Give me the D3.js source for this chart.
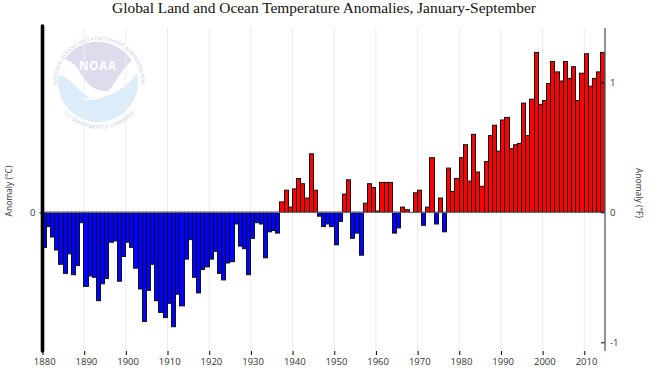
<!DOCTYPE html>
<html>
<head>
<meta charset="utf-8">
<script src="https://cdn.jsdelivr.net/npm/d3@7"></script>
<style>
  html, body { margin: 0; padding: 0; background: #fff; }
  svg { display: block; }
  text { font-family: "Open Sans", sans-serif; fill: #333; }
  .title { font-family: "Liberation Serif", serif; font-size: 15.4px; fill: #111; }
  .tick text { font-size: 9.5px; fill: #333; }
  .side { font-size: 8.5px; }
  .ring { font-size: 5px; fill: #c6cbdc; }
</style>
</head>
<body>
<svg id="chart" width="660" height="371"></svg>
<script>
const title = "Global Land and Ocean Temperature Anomalies, January-September";
const firstYear = 1880;

// anomaly in deg F, one row per decade
const anom1880s = [-.27, -.11, -.19, -.29, -.40, -.47, -.32, -.48, -.41, -.08];
const anom1890s = [-.57, -.49, -.50, -.68, -.55, -.51, -.23, -.22, -.53, -.34];
const anom1900s = [-.23, -.27, -.43, -.59, -.84, -.60, -.40, -.68, -.77, -.81];
const anom1910s = [-.70, -.88, -.63, -.72, -.36, -.21, -.50, -.62, -.44, -.42];
const anom1920s = [-.36, -.30, -.47, -.52, -.39, -.38, -.09, -.26, -.28, -.48];
const anom1930s = [-.20, -.08, -.09, -.35, -.15, -.14, -.16, .08, .17, .04];
const anom1940s = [.18, .26, .22, .11, .45, .17, -.03, -.11, -.09, -.11];
const anom1950s = [-.25, -.07, .14, .25, -.20, -.16, -.33, .07, .22, .19];
const anom1960s = [.01, .23, .23, .23, -.16, -.12, .04, .02, 0, .15];
const anom1970s = [.17, -.10, .04, .42, -.09, .11, -.15, .34, .16, .26];
const anom1980s = [.42, .52, .24, .60, .31, .20, .39, .59, .67, .47];
const anom1990s = [.71, .73, .49, .52, .53, .84, .59, .87, 1.23, .83];
const anom2000s = [.86, .99, 1.16, 1.08, 1.01, 1.16, 1.03, 1.12, .86, 1.07];
const anom2010s = [1.22, .97, 1.03, 1.08, 1.23];

const xTicks = [1880, 1890, 1900, 1910, 1920, 1930, 1940, 1950, 1960, 1970, 1980, 1990, 2000, 2010];
const rightTicks = [-1, 0, 1];

const anomalies = [].concat(anom1880s, anom1890s, anom1900s, anom1910s, anom1920s, anom1930s,
  anom1940s, anom1950s, anom1960s, anom1970s, anom1980s, anom1990s, anom2000s, anom2010s);
const data = anomalies.map((v, i) => ({year: firstYear + i, value: v}));

const x = d3.scaleLinear().domain([1880, 2010]).range([42.5, 584.3]);
const y = d3.scaleLinear().domain([-1, 1]).range([342.3, 82.3]);
const plotTop = 28, plotBottom = 351, leftEdge = 42.5, rightEdge = 605;

const svg = d3.select("#chart");

// snap bar edges to whole pixels so each divider stays a visible 1px line
function bar_left(year) {
  return Math.round(x(year) - 0.7) + 0.5;
}

function draw_logo() {
  let g = svg.append("g");
  let defs = svg.append("defs");
  defs.append("path").attr("id", "ringTop").attr("d", "M 59.5,96.4 A 42 42 0 1 1 138.5,96.4");
  defs.append("path").attr("id", "ringBottom").attr("d", "M 57,103 A 47 47 0 0 0 141,103");

  // lower half of the disc
  g.append("path")
    .attr("d", "M 58.5,76 C 70,75 78,92 89,97 C 103,100 124,92 137,73 A 40 40 0 1 1 58.5,76 Z")
    .attr("fill", "#dcecf9");
  // bird wing
  g.append("path")
    .attr("d", "M 65,59 A 40 40 0 0 1 132,61 C 121,68 116,84 108,91 C 95,92 86,84 80,72 C 76,65 72,62 65,59 Z")
    .attr("fill", "#dcdcec");
  g.append("path")
    .attr("d", "M 84,99 C 95,100 105,97 114,91")
    .attr("fill", "none").attr("stroke", "#fff").attr("stroke-width", 1.6);
  g.append("text").attr("x", 98).attr("y", 70).attr("text-anchor", "middle")
    .style("font-size", "11.5px").style("font-weight", 700).style("fill", "#fff")
    .style("letter-spacing", "0.8px").text("NOAA");
  g.append("text").attr("class", "ring").append("textPath")
    .attr("href", "#ringTop").attr("startOffset", "50%").attr("text-anchor", "middle")
    .text("NATIONAL OCEANIC AND ATMOSPHERIC ADMINISTRATION");
  g.append("text").attr("class", "ring").append("textPath")
    .attr("href", "#ringBottom").attr("startOffset", "50%").attr("text-anchor", "middle")
    .text("U.S. DEPARTMENT OF COMMERCE");
}

function draw_grid() {
  svg.append("g").selectAll("line")
    .data(xTicks.slice(1)).enter()
    .append("line")
    .attr("x1", d => x(d)).attr("x2", d => x(d))
    .attr("y1", plotTop).attr("y2", plotBottom)
    .attr("stroke", "#ececec").attr("stroke-width", 1);
}

function draw_bars() {
  svg.append("g").selectAll("rect")
    .data(data).enter()
    .append("rect")
    .attr("x", d => bar_left(d.year))
    .attr("width", d => bar_left(d.year + 1) - bar_left(d.year))
    .attr("y", d => Math.min(y(d.value), y(0)))
    .attr("height", d => Math.abs(y(d.value) - y(0)))
    .attr("fill", d => d.value < 0 ? "#0000ff" : "#ff0000")
    .attr("stroke", "#111")
    .attr("stroke-width", 1);
}

function draw_axes() {
  // zero line
  svg.append("line")
    .attr("x1", leftEdge).attr("x2", rightEdge)
    .attr("y1", y(0)).attr("y2", y(0))
    .attr("stroke", "#666").attr("stroke-width", 1.2);

  let bottom = svg.append("g")
    .attr("transform", `translate(0,${plotBottom})`)
    .call(d3.axisBottom(x).tickValues(xTicks).tickFormat(d3.format("d")).tickSize(4).tickPadding(3));
  bottom.select(".domain").remove();
  bottom.selectAll("text").attr("dx", 1.7);

  let right = svg.append("g")
    .attr("transform", `translate(${rightEdge},0)`)
    .call(d3.axisRight(y).tickValues(rightTicks).tickFormat(d => d).tickSize(-4).tickPadding(5));
  right.select(".domain").remove();

  let left = svg.append("g")
    .attr("transform", `translate(${leftEdge},0)`)
    .call(d3.axisLeft(y).tickValues([0]).tickFormat(d => d).tickSize(3).tickPadding(4));
  left.select(".domain").remove();

  svg.append("line")
    .attr("x1", rightEdge).attr("x2", rightEdge)
    .attr("y1", plotTop).attr("y2", plotBottom)
    .attr("stroke", "#666").attr("stroke-width", 1.4);
  svg.append("line")
    .attr("x1", leftEdge).attr("x2", leftEdge)
    .attr("y1", 26).attr("y2", plotBottom)
    .attr("stroke", "#000").attr("stroke-width", 3.6)
    .attr("stroke-linecap", "round");
}

function draw_labels() {
  svg.append("text").attr("class", "title")
    .attr("x", 324).attr("y", 13).attr("text-anchor", "middle").text(title);
  svg.append("text").attr("class", "side")
    .attr("transform", "translate(11.5,191) rotate(-90)")
    .attr("text-anchor", "middle").text("Anomaly (°C)");
  svg.append("text").attr("class", "side")
    .attr("transform", "translate(635.5,193) rotate(90)")
    .attr("text-anchor", "middle").text("Anomaly (°F)");
}

draw_logo();
draw_grid();
draw_bars();
draw_axes();
draw_labels();
</script>
</body>
</html>
